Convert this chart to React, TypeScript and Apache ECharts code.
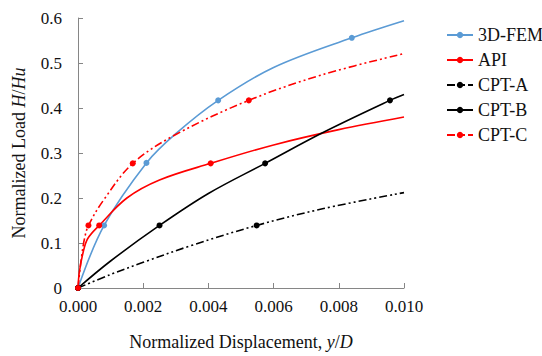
import React, { useEffect, useRef } from "react";
import * as echarts from "echarts";

// Curves: [y/D, H/Hu]
const femCurve: number[][] = [
  [0, 0], [0.0008, 0.139], [0.0021, 0.278], [0.003, 0.343], [0.0043, 0.417],
  [0.006, 0.49], [0.0084, 0.556], [0.010, 0.594],
];
const femMarked = [0, 1, 2, 4, 6];

const apiCurve: number[][] = [
  [0, 0], [0.00004, 0.035], [0.00016, 0.08], [0.0003, 0.11], [0.00065, 0.139],
  [0.0015, 0.2], [0.0025, 0.24], [0.00407, 0.277], [0.006, 0.318], [0.008, 0.352], [0.010, 0.380],
];
const apiMarked = [0, 4, 7];

const cptACurve: number[][] = [
  [0, 0], [0.001, 0.03], [0.002, 0.057], [0.0035, 0.095], [0.00548, 0.139],
  [0.0075, 0.176], [0.010, 0.212],
];
const cptAMarked = [0, 4];

const cptBCurve: number[][] = [
  [0, 0], [0.001, 0.06], [0.0025, 0.139], [0.004, 0.21], [0.00574, 0.277],
  [0.0075, 0.345], [0.00957, 0.417], [0.010, 0.430],
];
const cptBMarked = [0, 2, 4, 6];

const cptCCurve: number[][] = [
  [0, 0], [0.00005, 0.035], [0.00012, 0.075], [0.0002, 0.11], [0.00032, 0.139],
  [0.0008, 0.197], [0.00168, 0.277], [0.003, 0.341], [0.00524, 0.417],
  [0.0075, 0.474], [0.010, 0.521],
];
const cptCMarked = [0, 4, 6, 8];

const seriesNames = ["3D-FEM", "API", "CPT-A", "CPT-B", "CPT-C"];
const xTicks = { min: 0, max: 0.01, interval: 0.002 };
const yTicks = { min: 0, max: 0.6, interval: 0.1 };

const FONT = "serif";
const dashDotDot = [8, 3, 2, 3, 2, 3];

function toData(curve: number[][], marked: number[]) {
  return curve.map((p, i) =>
    marked.includes(i) ? p : { value: p, symbol: "none" }
  );
}

export default function App() {
  const ref = useRef<HTMLDivElement>(null);
  useEffect(() => {
    if (!ref.current) return;
    document.body.style.margin = "0";
    const chart = echarts.init(ref.current, null, { renderer: "svg" });
    const mk = (
      name: string,
      curve: number[][],
      marked: number[],
      color: string,
      type: any
    ) => ({
      name,
      type: "line",
      data: toData(curve, marked),
      smooth: 0.35,
      symbol: "circle",
      symbolSize: 6,
      itemStyle: { color },
      lineStyle: { color, width: 1.6, type },
    });
    const rich = {
      n: { fontFamily: FONT, fontSize: 18, color: "#111" },
      i: { fontFamily: FONT, fontSize: 18, color: "#111", fontStyle: "italic" },
    };
    chart.setOption({
      animation: false,
      textStyle: { fontFamily: FONT },
      grid: { left: 78, right: 138, top: 18, bottom: 63 },
      legend: {
        orient: "vertical",
        left: 441,
        top: 21,
        itemWidth: 26,
        itemHeight: 8,
        itemGap: 7,
        data: seriesNames,
        textStyle: { fontFamily: FONT, fontSize: 18, color: "#111" },
      },
      xAxis: {
        type: "value",
        min: xTicks.min,
        max: xTicks.max,
        interval: xTicks.interval,
        name: "{n|Normalized Displacement, }{i|y}{n|/}{i|D}",
        nameLocation: "middle",
        nameGap: 45,
        nameTextStyle: { fontFamily: FONT, fontSize: 18, color: "#111", rich },
        axisLine: { lineStyle: { color: "#868686", width: 1 } },
        axisTick: { inside: true, length: 5, lineStyle: { color: "#868686" } },
        axisLabel: {
          formatter: (v: number) => v.toFixed(3),
          fontFamily: FONT,
          fontSize: 17,
          color: "#111",
          margin: 10,
        },
        splitLine: { show: false },
      },
      yAxis: {
        type: "value",
        min: yTicks.min,
        max: yTicks.max,
        interval: yTicks.interval,
        name: "{n|Normalized Load }{i|H}{n|/}{i|Hu}",
        nameLocation: "middle",
        nameGap: 50,
        nameTextStyle: { fontFamily: FONT, fontSize: 18, color: "#111", rich },
        axisLine: { show: true, lineStyle: { color: "#868686", width: 1 } },
        axisTick: { show: true, inside: true, length: 5, lineStyle: { color: "#868686" } },
        axisLabel: {
          formatter: (v: number) => (v === 0 ? "0" : v.toFixed(1)),
          fontFamily: FONT,
          fontSize: 17,
          color: "#111",
          margin: 16,
        },
        splitLine: { show: false },
      },
      series: [
        mk(seriesNames[0], femCurve, femMarked, "#5B9BD5", "solid"),
        mk(seriesNames[1], apiCurve, apiMarked, "#FF0000", "solid"),
        mk(seriesNames[2], cptACurve, cptAMarked, "#000000", dashDotDot),
        mk(seriesNames[3], cptBCurve, cptBMarked, "#000000", "solid"),
        mk(seriesNames[4], cptCCurve, cptCMarked, "#FF0000", dashDotDot),
      ],
    });
    return () => chart.dispose();
  }, []);
  return <div ref={ref} style={{ width: 542, height: 356 }} />;
}
